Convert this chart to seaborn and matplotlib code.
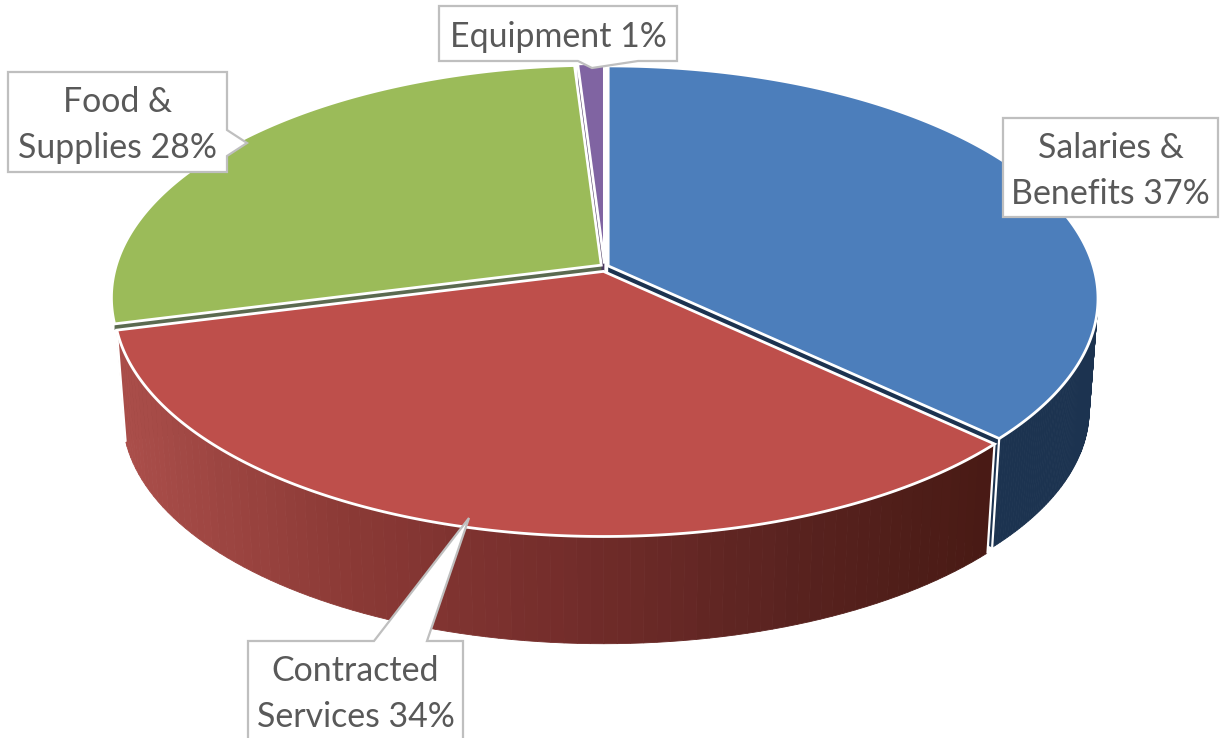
"""
Exploded 3D style pie of spending shares, with callout labels.
"""

import numpy as np
import seaborn as sns
import matplotlib
matplotlib.use("Agg")
import matplotlib.pyplot as plt

categories = ["Salaries &\nBenefits", "Contracted\nServices", "Food &\nSupplies", "Equipment"]
shares = [37, 34, 28, 1]

top_colors = ["#4C7EBB", "#BE4F4B", "#9BBB59", "#8064A2"]
side_colors = ["#1C3350", "#4A1C16", "#5B6A50", "#4B3A60"]
red_side = ["#AA4E4A", "#8C3A36", "#742D2B", "#5A2320", "#481A14"]
text_color = "#595959"
box_edge = "#BFBFBF"

W, H = 1221, 738
cx, cy = 604.5, 267.5
a, b, k = 485, 228, 0.14
depth, shrink = 112, 0.982
explode = 4
# how far each slice's cut face shows below the top, the green one only as a sliver
face_depth = [112, 112, 6, 112]


def project(theta, off, lower=False):
    nx, ny = np.sin(theta), np.cos(theta)
    s = 1 / (1 + k * ny)
    if lower:
        return cx + off[0] + a * shrink * nx * s, cy + off[1] + depth - b * shrink * ny * s
    return cx + off[0] + a * nx * s, cy + off[1] - b * ny * s


sns.set_theme(style="white")
plt.rcParams["font.family"] = ["Lato", "DejaVu Sans"]

fig = plt.figure(figsize=(W / 100, H / 100), dpi=100, facecolor="white")
ax = fig.add_axes([0, 0, 1, 1])
ax.set_xlim(0, W)
ax.set_ylim(H, 0)
ax.axis("off")

edges = np.radians(np.cumsum([0] + shares) * 3.6)
offsets = []
for i in range(len(shares)):
    mid = (edges[i] + edges[i + 1]) / 2
    offsets.append((explode * np.sin(mid), -explode * np.cos(mid)))

gradient = sns.blend_palette(red_side, 80)

# inner faces and outer walls first, back slices before the front one
for i in [3, 2, 0, 1]:
    off = offsets[i]
    for th in (edges[i], edges[i + 1]):
        x0, y0 = project(th, off)
        if face_depth[i] < depth:
            x1, y1 = x0, y0 + face_depth[i]
        else:
            x1, y1 = project(th, off, lower=True)
        ax.fill([cx + off[0], x0, x1, cx + off[0]],
                [cy + off[1], y0, y1, cy + off[1] + face_depth[i]],
                color=side_colors[i], lw=0, zorder=2)
    # the green wall sits behind the red one, nothing of it shows
    if i == 2:
        continue
    start = max(edges[i], np.pi / 2)
    stop = min(edges[i + 1], 3 * np.pi / 2)
    if stop <= start:
        continue
    steps = np.linspace(start, stop, 90)
    for t0, t1 in zip(steps[:-1], steps[1:]):
        xa, ya = project(t0, off)
        xb, yb = project(t1, off)
        xc, yc = project(t1, off, lower=True)
        xd, yd = project(t0, off, lower=True)
        if i == 1:
            pos = np.clip((xa + xb + xc + xd) / 4, 120, 990)
            col = gradient[int((pos - 120) / 870 * 79)]
        else:
            col = side_colors[i]
        ax.fill([xa, xb, xc, xd], [ya, yb, yc, yd], facecolor=col, edgecolor=col,
                lw=0.6, zorder=3)
    # white line at the end of the wall that faces the neighbour slice
    for th in (start, stop):
        if np.isclose(th, edges[i]) or np.isclose(th, edges[i + 1]):
            x0, y0 = project(th, off)
            x1, y1 = project(th, off, lower=True)
            ax.plot([x0, x1], [y0, y1], color="white", lw=1.6, zorder=4)

# top faces
for i in [3, 2, 0, 1]:
    off = offsets[i]
    t = np.linspace(edges[i], edges[i + 1], 200)
    xs, ys = project(t, off)
    ax.fill(np.r_[cx + off[0], xs], np.r_[cy + off[1], ys], facecolor=top_colors[i],
            edgecolor="white", lw=2, joinstyle="miter", zorder=5)

# callout boxes, outline runs through the pointer
box_salaries = [(1003, 118), (1218, 118), (1218, 217), (1003, 217)]
box_contracted = [(248, 641), (374, 641), (469, 518), (427, 641), (463, 641), (463, 750), (248, 750)]
box_food = [(8, 72), (227, 72), (227, 130), (247, 143), (227, 156), (227, 172), (8, 172)]
box_equipment = [(439, 6), (677, 6), (677, 61), (638, 61), (592, 68), (578, 61), (439, 61)]
boxes = [box_salaries, box_contracted, box_food, box_equipment]
centers = [(1110.5, 171), (355.5, 694), (117.5, 125), (558, 37)]

for i, name in enumerate(categories):
    pts = np.array(boxes[i])
    ax.fill(pts[:, 0], pts[:, 1], facecolor="white", edgecolor=box_edge, lw=1.6,
            joinstyle="miter", zorder=6)
    ax.text(centers[i][0], centers[i][1], f"{name} {shares[i]}%", ha="center", va="center",
            fontsize=24.4, color=text_color, linespacing=1.55, zorder=7)

plt.savefig("out.png", dpi=100)
plt.close()
